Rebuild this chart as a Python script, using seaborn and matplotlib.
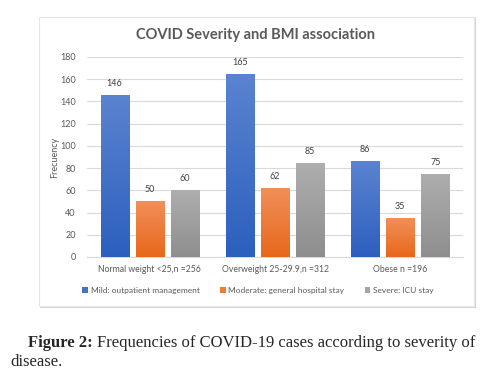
import seaborn as sns
import matplotlib.pyplot as plt
import numpy as np
import pandas as pd
from matplotlib.patches import Patch, Rectangle
from matplotlib.colors import LinearSegmentedColormap

# data
groups = ["Normal weight <25,n =256", "Overweight 25-29.9,n =312", "Obese n =196"]
severity = ["Mild: outpatient management", "Moderate: general hospital stay", "Severe: ICU stay"]
mild = [146, 165, 86]
moderate = [50, 62, 35]
severe = [60, 85, 75]

base_colors = ["#4472C4", "#ED7D31", "#A5A5A5"]
grad_top = ["#5B84D0", "#F18F5A", "#AEAEAE"]
grad_bottom = ["#2C5FBE", "#E7681A", "#8E8E8E"]

df = pd.DataFrame({
    "group": groups * 3,
    "severity": [severity[0]] * 3 + [severity[1]] * 3 + [severity[2]] * 3,
    "count": mild + moderate + severe,
})

sns.set_style("white")
plt.rcParams["font.family"] = ["Lato", "DejaVu Sans"]

fig = plt.figure(figsize=(4.91, 3.77), dpi=100)

# chart frame (Excel style box with a soft shadow)
fig.patches.append(Rectangle((40 / 491, 1 - 308 / 377), 436 / 491, 291 / 377,
                             transform=fig.transFigure, facecolor="#D6D6D6",
                             edgecolor="none", zorder=-2))
fig.patches.append(Rectangle((39 / 491, 1 - 306 / 377), 435 / 491, 289 / 377,
                             transform=fig.transFigure, facecolor="white",
                             edgecolor="#E6E6E6", linewidth=0.8, zorder=-1))

ax = fig.add_axes([87 / 491, 1 - 257 / 377, 376 / 491, 200 / 377])
ax.set_zorder(2)
ax.set_facecolor("none")

sns.barplot(data=df, x="group", y="count", hue="severity", hue_order=severity,
            palette=base_colors, width=0.84, gap=0.2, legend=False, ax=ax, zorder=3)

# vertical gradient fill on each bar
for i, cont in enumerate(ax.containers):
    cmap = LinearSegmentedColormap.from_list("g", [grad_bottom[i], grad_top[i]])
    for bar in cont:
        x0, w, h = bar.get_x(), bar.get_width(), bar.get_height()
        grad = np.linspace(0, 1, 256).reshape(-1, 1)
        im = ax.imshow(grad, cmap=cmap, origin="lower", aspect="auto",
                       extent=(x0, x0 + w, 0, h), zorder=3)
        im.set_clip_path(bar)
        bar.set_facecolor("none")
        bar.set_edgecolor("none")
    ax.bar_label(cont, labels=[str(int(b.get_height())) for b in cont], padding=5,
                 fontsize=6.5, color="#404040")

ax.set_xlim(-0.5, 2.5)
ax.set_ylim(0, 180)
ax.set_yticks(range(0, 181, 20))
ax.yaxis.grid(True, color="#D9D9D9", linewidth=0.8, zorder=0)
ax.set_axisbelow(True)
for s in ["top", "right", "left"]:
    ax.spines[s].set_visible(False)
ax.spines["bottom"].set_color("#D9D9D9")
ax.spines["bottom"].set_linewidth(0.8)
ax.tick_params(axis="y", length=0, labelsize=6.5, colors="#595959", pad=8)
ax.tick_params(axis="x", length=0, labelsize=6.2, colors="#595959", pad=6)
ax.set_xlabel("")
ax.set_ylabel("Frecuency", fontsize=6.5, color="#595959", labelpad=1)

fig.text(0.52, 1 - 35 / 377, "COVID Severity and BMI association", ha="center",
         va="center", fontsize=10.5, fontweight="bold", color="#595959")

handles = [Patch(facecolor=c, edgecolor="none") for c in base_colors]
fig.legend(handles, severity, loc="center", bbox_to_anchor=(258 / 491, 1 - 290 / 377),
           ncol=3, frameon=False, fontsize=6.0, labelcolor="#595959",
           handlelength=0.7, handleheight=0.7, handletextpad=0.35, columnspacing=2.4)

# figure caption below the chart
cap = ["Liberation Serif", "DejaVu Serif"]
fig.text(28 / 491, 1 - 343 / 377, "Figure 2:", fontsize=12, fontweight="bold",
         family=cap, va="center", ha="left")
fig.text(475 / 491, 1 - 343 / 377, "Frequencies of COVID-19 cases according to severity of",
         fontsize=12, family=cap, va="center", ha="right")
fig.text(10 / 491, 1 - 362 / 377, "disease.", fontsize=12, family=cap, va="center", ha="left")

fig.savefig("out.png", dpi=100)
